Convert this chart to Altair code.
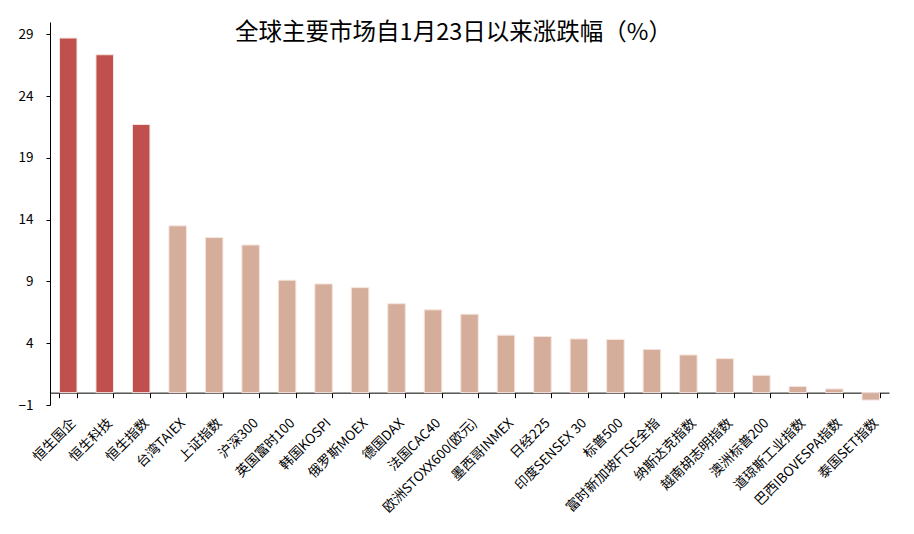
import altair as alt
import pandas as pd

categories = ["恒生国企", "恒生科技", "恒生指数", "台湾TAIEX", "上证指数", "沪深300",
              "英国富时100", "韩国KOSPI", "俄罗斯MOEX", "德国DAX", "法国CAC40",
              "欧洲STOXX600(欧元)", "墨西哥INMEX", "日经225", "印度SENSEX 30", "标普500",
              "富时新加坡FTSE全指", "纳斯达克指数", "越南胡志明指数", "澳洲标普200",
              "道琼斯工业指数", "巴西IBOVESPA指数", "泰国SET指数"]
values = [28.7, 27.35, 21.7, 13.5, 12.55, 11.95, 9.1, 8.8, 8.5, 7.2, 6.7,
          6.35, 4.65, 4.55, 4.35, 4.3, 3.5, 3.05, 2.75, 1.4, 0.5, 0.3, -0.6]
groups = ["港股"] * 3 + ["其他"] * 20
y_ticks = [-1, 4, 9, 14, 19, 24, 29]

df = pd.DataFrame({"市场": categories, "涨跌幅": values, "组": groups})

FONT = "Noto Sans CJK SC"

chart = alt.Chart(df).mark_bar(stroke="#F6E4DE", strokeWidth=1).encode(
    x=alt.X("市场:N", sort=categories, title=None,
            scale=alt.Scale(paddingInner=0.52, paddingOuter=0.26),
            axis=alt.Axis(labelAngle=-45, labelAlign="right", labelBaseline="middle",
                          labelPadding=23, labelOffset=5, labelFontSize=13.5, labelFont=FONT,
                          labelColor="#000000", tickBand="extent", tickSize=5,
                          tickColor="#000000", domainColor="#000000", offset=-12.35,
                          labelOverlap=False, labelLimit=300)),
    y=alt.Y("涨跌幅:Q", title=None,
            scale=alt.Scale(domain=[-1, 30], nice=False, zero=False),
            axis=alt.Axis(values=y_ticks, grid=False, tickSize=4, labelPadding=13,
                          labelFontSize=13.5, labelFont=FONT, labelColor="#000000",
                          tickColor="#000000", domainColor="#000000")),
    color=alt.Color("组:N", legend=None,
                    scale=alt.Scale(domain=["港股", "其他"], range=["#C0504D", "#D5AD9B"])),
).properties(
    width=839, height=383,
    padding={"left": 42, "top": 14, "right": 15, "bottom": 125},
    autosize=alt.AutoSizeParams(type="none"),
    title=alt.TitleParams("全球主要市场自1月23日以来涨跌幅（%）", fontSize=23.5, font=FONT,
                          fontWeight="normal", color="#000000", anchor="middle",
                          frame="group", dx=-16, dy=34, offset=0, baseline="middle"),
).configure_view(stroke=None)

chart.save("out.html", embed_options={"renderer": "svg", "actions": False})
